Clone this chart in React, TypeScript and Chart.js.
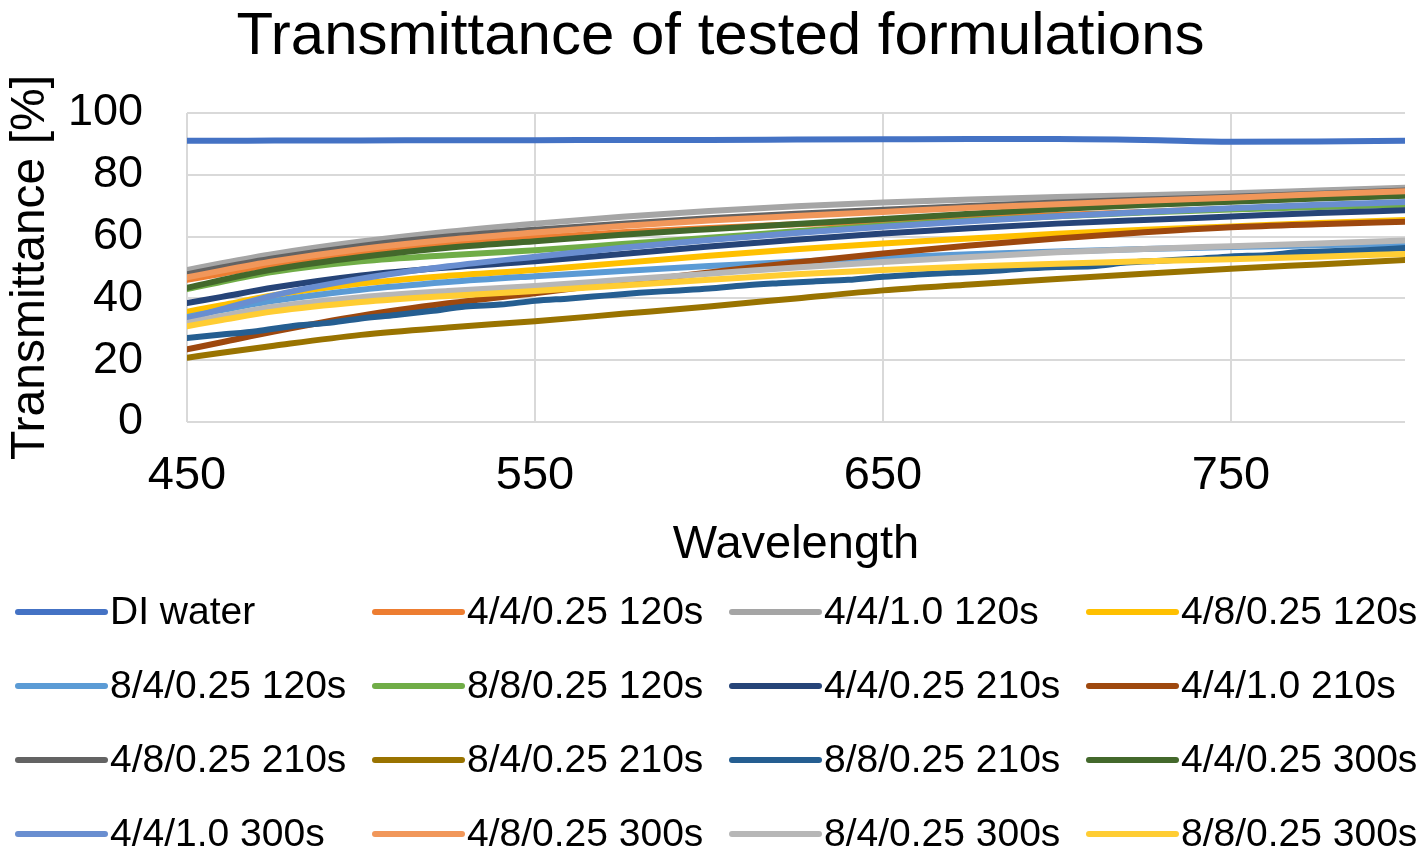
import { useEffect, useRef } from "react";
import { Chart, registerables } from "chart.js";

Chart.register(...registerables);

const FONT = "'Liberation Sans', Arial, sans-serif";

// wavelength grid (nm) used by most series
const wavelengths = [450, 460, 475, 500, 525, 550, 575, 600, 625, 650, 675, 700, 725, 750, 775, 800];
// finer grid for the noisy 8/8/0.25 210s trace
const noisyWavelengths = [
  450, 460, 470, 480, 490, 500, 510, 520, 530, 540, 550, 560, 570, 580, 590, 600, 610, 620,
  630, 640, 650, 660, 670, 680, 690, 700, 710, 720, 730, 740, 750, 760, 770, 780, 790, 800,
];

const xTicks = [450, 550, 650, 750];

const seriesLabels = [
  "DI water",
  "4/4/0.25 120s",
  "4/4/1.0 120s",
  "4/8/0.25 120s",
  "8/4/0.25 120s",
  "8/8/0.25 120s",
  "4/4/0.25 210s",
  "4/4/1.0 210s",
  "4/8/0.25 210s",
  "8/4/0.25 210s",
  "8/8/0.25 210s",
  "4/4/0.25 300s",
  "4/4/1.0 300s",
  "4/8/0.25 300s",
  "8/4/0.25 300s",
  "8/8/0.25 300s",
];

const seriesColors = [
  "#4472C4", "#ED7D31", "#A5A5A5", "#FFC000",
  "#5B9BD5", "#70AD47", "#264478", "#9E480E",
  "#636363", "#997300", "#255E91", "#43682B",
  "#698ED0", "#F1975A", "#B7B7B7", "#FFCD33",
];

const diWater = [91.0, 91.0, 91.1, 91.1, 91.2, 91.2, 91.3, 91.3, 91.4, 91.5, 91.6, 91.6, 91.3, 90.7, 90.8, 91.0];
const f44025_120 = [46.0, 48.0, 51.0, 54.8, 57.5, 59.6, 61.4, 62.8, 64.0, 65.0, 66.0, 67.0, 68.0, 69.0, 69.8, 70.5];
const f4410_120 = [49.2, 51.4, 54.4, 58.4, 61.6, 64.2, 66.4, 68.3, 69.8, 71.0, 72.0, 72.8, 73.4, 74.0, 74.9, 75.8];
const f48025_120 = [35.7, 37.8, 41.0, 44.8, 47.3, 49.2, 51.5, 53.8, 55.9, 57.8, 59.4, 60.9, 62.2, 63.3, 64.4, 65.4];
const f84025_120 = [34.0, 36.2, 39.2, 42.8, 45.3, 47.2, 48.9, 50.5, 51.9, 53.2, 54.3, 55.2, 56.0, 56.6, 57.2, 57.8];
const f88025_120 = [43.0, 45.4, 48.6, 52.0, 54.0, 55.6, 57.6, 59.6, 61.7, 63.6, 65.2, 66.6, 67.8, 68.8, 69.6, 70.3];
const f44025_210 = [38.5, 40.5, 43.5, 47.4, 50.0, 52.0, 54.4, 56.8, 59.0, 61.0, 62.7, 64.2, 65.4, 66.5, 67.6, 68.5];
const f4410_210 = [23.5, 25.8, 29.3, 34.4, 38.4, 41.7, 45.1, 48.4, 51.6, 54.5, 57.1, 59.4, 61.4, 63.0, 64.0, 64.8];
const f48025_210 = [47.8, 50.0, 53.0, 57.0, 60.0, 62.2, 64.2, 65.9, 67.4, 68.7, 69.9, 71.0, 72.0, 72.9, 73.9, 74.9];
const f84025_210 = [20.8, 22.4, 24.7, 28.2, 30.6, 32.6, 35.0, 37.4, 40.0, 42.6, 44.5, 46.3, 48.0, 49.6, 51.0, 52.4];
const f88025_210 = [
  27.2, 28.3, 29.4, 31.0, 32.0, 33.5, 34.6, 35.9, 37.4, 38.0, 39.2, 40.0, 40.9, 41.8, 42.5, 43.2, 44.2, 44.9,
  45.5, 46.0, 47.0, 47.7, 48.3, 48.8, 49.6, 50.2, 50.4, 51.6, 52.2, 52.8, 53.6, 54.0, 55.0, 55.3, 55.7, 56.3,
];
const f44025_300 = [43.4, 46.0, 49.4, 53.4, 56.4, 58.5, 60.6, 62.4, 64.1, 65.7, 67.4, 68.9, 70.2, 71.3, 72.3, 73.2];
const f4410_300 = [33.5, 36.5, 41.0, 46.4, 50.4, 53.5, 56.4, 58.9, 61.2, 63.2, 65.0, 66.6, 68.0, 69.2, 70.3, 71.2];
const f48025_300 = [46.8, 49.0, 52.0, 56.0, 59.0, 61.3, 63.4, 65.2, 66.7, 68.0, 69.3, 70.5, 71.6, 72.6, 73.7, 74.7];
const f84025_300 = [32.0, 34.3, 37.3, 40.4, 42.4, 44.0, 46.0, 48.0, 50.0, 51.8, 53.4, 54.9, 56.0, 56.9, 57.8, 58.7];
const f88025_300 = [31.0, 33.0, 35.8, 38.8, 40.8, 42.4, 44.2, 46.0, 47.8, 49.2, 50.3, 51.2, 52.0, 52.7, 53.5, 54.4];

const seriesValues = [
  diWater, f44025_120, f4410_120, f48025_120,
  f84025_120, f88025_120, f44025_210, f4410_210,
  f48025_210, f84025_210, f88025_210, f44025_300,
  f4410_300, f48025_300, f84025_300, f88025_300,
];

// legend drawn as a 4-column grid under the x axis title
const gridLegend = {
  id: "gridLegend",
  afterDraw(chart: any) {
    const ctx = chart.ctx;
    const top = chart.chartArea.bottom + 190;
    ctx.save();
    ctx.font = `39px ${FONT}`;
    ctx.textBaseline = "middle";
    ctx.textAlign = "left";
    chart.data.datasets.forEach((ds: any, i: number) => {
      const col = i % 4;
      const row = Math.floor(i / 4);
      const x = 18 + col * 357;
      const y = top + row * 74;
      ctx.strokeStyle = ds.borderColor;
      ctx.lineWidth = 6;
      ctx.lineCap = "round";
      ctx.beginPath();
      ctx.moveTo(x, y);
      ctx.lineTo(x + 87, y);
      ctx.stroke();
      ctx.fillStyle = "#000";
      ctx.fillText(ds.label, x + 92, y + 1);
    });
    ctx.restore();
  },
};

export default function App() {
  const chartRef = useRef<HTMLCanvasElement>(null);

  useEffect(() => {
    document.body.style.margin = "0";
    if (!chartRef.current) return;

    const datasets = seriesLabels.map((label, i) => {
      const xs = seriesValues[i].length === noisyWavelengths.length ? noisyWavelengths : wavelengths;
      return {
        label,
        data: seriesValues[i].map((v, j) => ({ x: xs[j], y: v })),
        borderColor: seriesColors[i],
        backgroundColor: seriesColors[i],
        borderWidth: 6,
        borderCapStyle: "round" as const,
        pointRadius: 0,
        cubicInterpolationMode: "monotone" as const,
        // later series drawn on top, like the original
        order: seriesLabels.length - i,
      };
    });

    const chartInstance = new Chart(chartRef.current, {
      type: "line",
      data: { datasets },
      plugins: [gridLegend],
      options: {
        animation: false,
        responsive: true,
        maintainAspectRatio: false,
        // left padding shifts the centred title; the y axis width makes up for it
        layout: { padding: { left: 36, right: 20, top: 0, bottom: 283 } },
        plugins: {
          legend: { display: false },
          tooltip: { enabled: false },
          title: {
            display: true,
            text: "Transmittance of tested formulations",
            color: "#000",
            font: { family: FONT, size: 60, weight: "normal", lineHeight: 1.2 },
            padding: { top: 1, bottom: 40 },
          },
        },
        scales: {
          x: {
            type: "linear",
            min: 450,
            max: 800,
            afterBuildTicks: (scale: any) => {
              scale.ticks = xTicks.map((v) => ({ value: v }));
            },
            afterFit: (scale: any) => {
              scale.height = 151;
            },
            grid: { color: "#D9D9D9", lineWidth: 2, drawTicks: false },
            border: { display: false },
            ticks: {
              color: "#000",
              padding: 26,
              font: { family: FONT, size: 47 },
              maxRotation: 0,
            },
            title: {
              display: true,
              text: "Wavelength",
              color: "#000",
              font: { family: FONT, size: 47 },
              padding: 0,
            },
          },
          y: {
            min: 0,
            max: 100,
            afterFit: (scale: any) => {
              scale.width = 151;
            },
            grid: { color: "#D9D9D9", lineWidth: 2, drawTicks: false },
            border: { display: false },
            ticks: {
              stepSize: 20,
              color: "#000",
              padding: 44,
              font: { family: FONT, size: 45 },
            },
            title: {
              display: true,
              text: "Transmittance [%]",
              color: "#000",
              font: { family: FONT, size: 48 },
              padding: { top: -34, bottom: 0 },
            },
          },
        },
      },
    });

    return () => {
      chartInstance.destroy();
    };
  }, []);

  return (
    <div style={{ position: "fixed", left: 0, top: 0, width: 1425, height: 856 }}>
      <canvas ref={chartRef} />
    </div>
  );
}
